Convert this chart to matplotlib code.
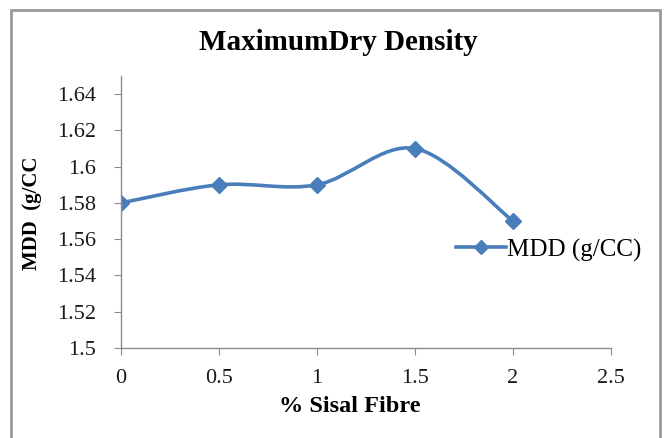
import matplotlib
matplotlib.use("Agg")
import matplotlib.pyplot as plt
import numpy as np
from matplotlib.path import Path
from matplotlib.patches import PathPatch, Rectangle
from matplotlib.lines import Line2D

fibre = [0, 0.5, 1, 1.5, 2]
mdd = [1.58, 1.59, 1.59, 1.61, 1.57]
series_name = "MDD (g/CC)"
title = "MaximumDry Density"
xlabel = "% Sisal Fibre"
ylabel = "MDD  (g/CC"
xticks = [0, 0.5, 1, 1.5, 2, 2.5]
xtick_labels = ["0", "0.5", "1", "1.5", "2", "2.5"]
yticks = [1.5, 1.52, 1.54, 1.56, 1.58, 1.6, 1.62, 1.64]
ytick_labels = ["1.5", "1.52", "1.54", "1.56", "1.58", "1.6", "1.62", "1.64"]

plt.rcParams['font.family'] = ['Liberation Serif', 'DejaVu Serif']
color = "#4a7ebb"

fig = plt.figure(figsize=(6.66, 4.38), dpi=100)
fig.patches.append(Rectangle((11/666, -0.05), (660-11)/666, 1.05 - 10/438,
                             transform=fig.transFigure, fill=False,
                             edgecolor="#999999", linewidth=2.0))
ax = fig.add_axes([121/666, 1-348/438, (611-121)/666, (348-76)/438])

# smoothed line (Catmull-Rom -> cubic Bezier), like a spreadsheet smoothed line
x = np.array(fibre, float); y = np.array(mdd, float)
verts = [(x[0], y[0])]; codes = [Path.MOVETO]
n = len(x)
for i in range(n-1):
    p0 = (x[i-1], y[i-1]) if i > 0 else (x[i], y[i])
    p1 = (x[i], y[i]); p2 = (x[i+1], y[i+1])
    p3 = (x[i+2], y[i+2]) if i+2 < n else (x[i+1], y[i+1])
    c1 = (p1[0] + (p2[0]-p0[0])/6, p1[1] + (p2[1]-p0[1])/6)
    c2 = (p2[0] - (p3[0]-p1[0])/6, p2[1] - (p3[1]-p1[1])/6)
    verts += [c1, c2, p2]; codes += [Path.CURVE4]*3
ax.add_patch(PathPatch(Path(verts, codes), fill=False, edgecolor=color, linewidth=2.6))
ax.plot(fibre, mdd, linestyle='none', marker='D', markersize=8, color=color)

ax.set_xlim(0, 2.5)
ax.set_ylim(1.5, 1.65)
ax.set_xticks(xticks)
ax.set_xticklabels(xtick_labels, fontsize=16)
ax.set_yticks(yticks)
ax.set_yticklabels(ytick_labels, fontsize=16)
for s in ['top', 'right']:
    ax.spines[s].set_visible(False)
for s in ['left', 'bottom']:
    ax.spines[s].set_color("#8c8c8c")
    ax.spines[s].set_linewidth(1.0)
ax.tick_params(axis='both', direction='out', length=5, color="#8c8c8c", colors="#1a1a1a")
ax.tick_params(axis='x', pad=10)
ax.tick_params(axis='y', pad=13)

fig.text(338/666, 1-42/438, title, ha='center', va='center', fontsize=21, fontweight='bold')
fig.text(350/666, 1-406/438, xlabel, ha='center', va='center', fontsize=17.5, fontweight='bold')
fig.text(32/666, 1-213/438, ylabel, ha='center', va='center', rotation=90, fontsize=15, fontweight='bold')

h = Line2D([], [], color=color, linewidth=2.6, marker='D', markersize=7)
fig.legend([h], [series_name], loc='center left', bbox_to_anchor=(446/666, 1-250/438),
           frameon=False, fontsize=18, handlelength=2.0, handletextpad=0.05, borderaxespad=0)

fig.savefig("out.png", dpi=100)
